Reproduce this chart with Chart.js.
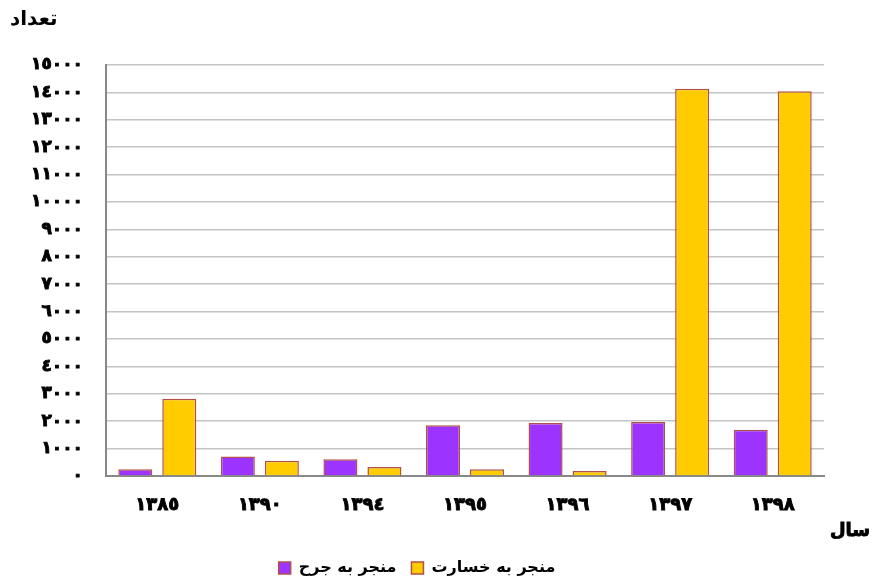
<!DOCTYPE html>
<html>
<head>
<meta charset="utf-8">
<script src="https://cdn.jsdelivr.net/npm/chart.js@4.4.0/dist/chart.umd.min.js"></script>
<style>
    body { margin: 0; background: #fff; }
    #wrap { width: 875px; height: 586px; }
</style>
</head>
<body>
<div id="wrap"><canvas id="accChart"></canvas></div>
<script>
//Labels to use
const years = ['١٣٨٥', '١٣٩٠', '١٣٩٤', '١٣٩٥', '١٣٩٦', '١٣٩٧', '١٣٩٨'];
const injuryData = [250, 710, 610, 1855, 1930, 1975, 1685];
const damageData = [2820, 560, 330, 245, 185, 14135, 14040];
const seriesNames = ['منجر به جرح', 'منجر به خسارت'];
const yTitle = 'تعداد';
const xTitle = 'سال';

const arabicDigits = ['٠','١','٢','٣','٤','٥','٦','٧','٨','٩'];
function toArabic(n){
    return String(n).replace(/[0-9]/g, d => arabicDigits[+d]);
}

const boldFont = "'DejaVu Sans'";

//draws the x axis title off to the right
const xTitlePlugin = {
    id: 'xTitle',
    afterDraw(chart) {
        const ctx = chart.ctx;
        const y = chart.scales.x.top + 55;
        ctx.save();
        ctx.font = 'bold 18px ' + boldFont;
        ctx.fillStyle = '#000';
        ctx.strokeStyle = '#000';
        ctx.lineWidth = 0.9;
        ctx.textAlign = 'right';
        ctx.textBaseline = 'middle';
        ctx.fillText(xTitle, chart.width - 5, y);
        ctx.strokeText(xTitle, chart.width - 5, y);
        ctx.restore();
    }
};

document.addEventListener("DOMContentLoaded", (event) => {
    const ctx = document.getElementById("accChart");

    const data = {
        labels: years,
        datasets: [{
            label: seriesNames[0],
            data: injuryData,
            backgroundColor: '#9d33ff',
            borderColor: '#b0504a',
            borderWidth: 1.5
        }, {
            label: seriesNames[1],
            data: damageData,
            backgroundColor: '#ffcc00',
            borderColor: '#b0504a',
            borderWidth: 1.5
        }]
    };

    const config = {
        type: 'bar',
        data: data,
        options: {
            responsive: true,
            maintainAspectRatio: false,
            animation: false,
            layout: {
                padding: { left: 10, right: 51, top: 0, bottom: 0 }
            },
            datasets: {
                bar: {
                    categoryPercentage: 0.858,
                    barPercentage: 1,
                    maxBarThickness: 34
                }
            },
            scales: {
                x: {
                    grid: { display: false, drawTicks: false },
                    border: { color: '#888', width: 2 },
                    ticks: {
                        color: '#000',
                        padding: 19,
                        textStrokeColor: '#000',
                        textStrokeWidth: 0.9,
                        font: { family: boldFont, size: 18, weight: 'bold' }
                    },
                    afterFit(scale) { scale.height = 69; }
                },
                y: {
                    min: 0,
                    max: 15000,
                    grid: { color: '#c4c4c4', lineWidth: 1.5, drawTicks: false },
                    border: { color: '#888', width: 2 },
                    ticks: {
                        stepSize: 1000,
                        autoSkip: false,
                        color: '#000',
                        padding: 23,
                        textStrokeColor: '#000',
                        textStrokeWidth: 0.9,
                        font: { family: boldFont, size: 17, weight: 'bold' },
                        callback: (value) => toArabic(value)
                    },
                    afterFit(scale) { scale.width = 96; }
                }
            },
            plugins: {
                title: {
                    display: true,
                    text: yTitle,
                    align: 'start',
                    color: '#000',
                    font: { family: boldFont, size: 20, weight: 'bold' },
                    padding: { top: 8, bottom: 33 }
                },
                legend: {
                    position: 'bottom',
                    labels: {
                        color: '#000',
                        boxWidth: 12,
                        boxHeight: 12,
                        padding: 15,
                        font: { family: boldFont, size: 16, weight: 'bold' }
                    }
                },
                tooltip: { enabled: false }
            }
        },
        plugins: [xTitlePlugin]
    };

    new Chart(ctx, config);
});
</script>
</body>
</html>
